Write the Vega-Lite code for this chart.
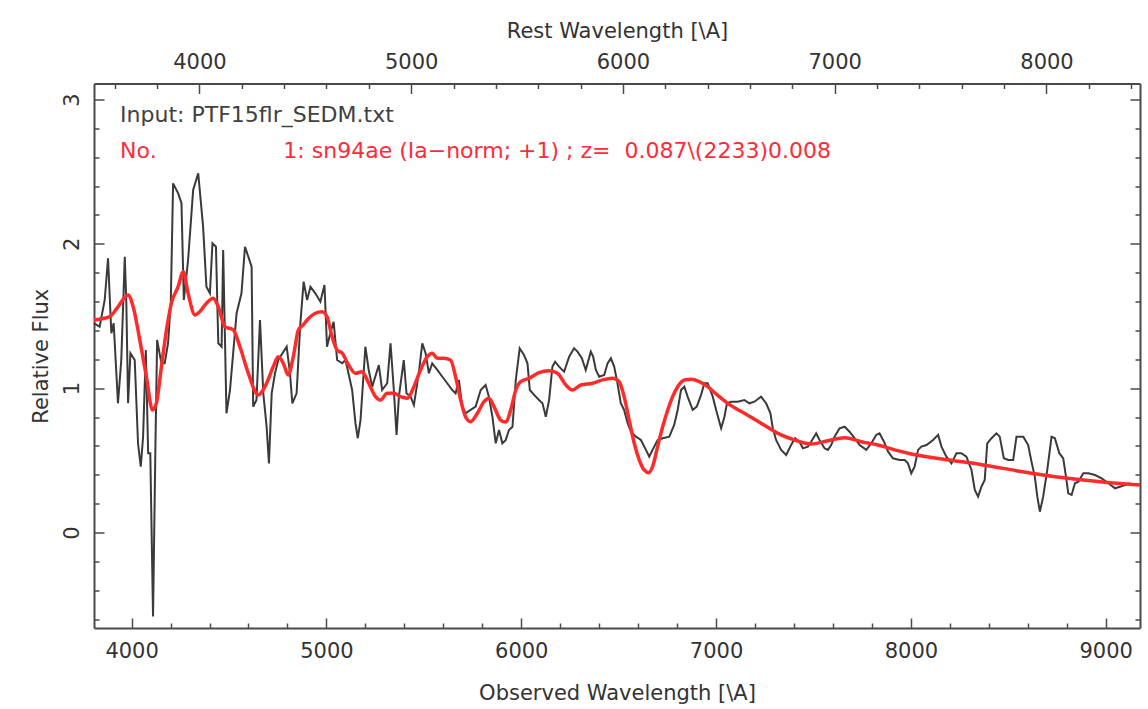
{
  "$schema": "https://vega.github.io/schema/vega-lite/v6.json",
  "width": 1046,
  "height": 544.5,
  "autosize": {"type": "none"},
  "padding": {"left": 94, "top": 83.5, "right": 8, "bottom": 81},
  "background": "#ffffff",
  "config": {
    "view": {"stroke": null},
    "font": "DejaVu Sans",
    "axis": {
      "grid": false,
      "domainColor": "#4a4a4a",
      "domainWidth": 2,
      "tickColor": "#4a4a4a",
      "tickWidth": 1.5,
      "labelColor": "#333333",
      "labelFontSize": 21,
      "titleColor": "#333333",
      "titleFontSize": 21,
      "titleFontWeight": "normal",
      "labelOverlap": false,
      "labelFlush": false
    }
  },
  "datasets": {
    "spectrum": [
      {"wl": 3807, "flux": 1.449}, {"wl": 3836, "flux": 1.426}, {"wl": 3862, "flux": 1.611}, {"wl": 3879, "flux": 1.9},
      {"wl": 3896, "flux": 1.38}, {"wl": 3908, "flux": 1.45}, {"wl": 3930, "flux": 0.895}, {"wl": 3947, "flux": 1.195},
      {"wl": 3965, "flux": 1.91}, {"wl": 3973, "flux": 1.588}, {"wl": 3982, "flux": 0.895}, {"wl": 3994, "flux": 1.242},
      {"wl": 4016, "flux": 1.195}, {"wl": 4033, "flux": 0.618}, {"wl": 4047, "flux": 0.456}, {"wl": 4059, "flux": 0.664},
      {"wl": 4073, "flux": 1.264}, {"wl": 4085, "flux": 0.549}, {"wl": 4096, "flux": 0.549}, {"wl": 4110, "flux": -0.583},
      {"wl": 4122, "flux": 0.572}, {"wl": 4131, "flux": 1.334}, {"wl": 4153, "flux": 1.172}, {"wl": 4170, "flux": 1.172},
      {"wl": 4187, "flux": 1.311}, {"wl": 4201, "flux": 1.588}, {"wl": 4213, "flux": 2.419}, {"wl": 4239, "flux": 2.35},
      {"wl": 4256, "flux": 2.281}, {"wl": 4268, "flux": 1.611}, {"wl": 4290, "flux": 1.888}, {"wl": 4316, "flux": 2.373},
      {"wl": 4342, "flux": 2.489}, {"wl": 4367, "flux": 2.119}, {"wl": 4384, "flux": 1.703}, {"wl": 4402, "flux": 1.657},
      {"wl": 4415, "flux": 2.004}, {"wl": 4433, "flux": 1.98}, {"wl": 4445, "flux": 1.311}, {"wl": 4462, "flux": 1.287},
      {"wl": 4470, "flux": 1.957}, {"wl": 4487, "flux": 0.826}, {"wl": 4505, "flux": 0.987}, {"wl": 4539, "flux": 1.519},
      {"wl": 4564, "flux": 1.657}, {"wl": 4582, "flux": 1.98}, {"wl": 4599, "flux": 1.911}, {"wl": 4616, "flux": 1.842},
      {"wl": 4624, "flux": 0.872}, {"wl": 4641, "flux": 0.918}, {"wl": 4659, "flux": 1.472}, {"wl": 4676, "flux": 0.964},
      {"wl": 4693, "flux": 0.733}, {"wl": 4705, "flux": 0.479}, {"wl": 4719, "flux": 0.964}, {"wl": 4736, "flux": 1.103},
      {"wl": 4753, "flux": 1.195}, {"wl": 4796, "flux": 1.287}, {"wl": 4813, "flux": 1.103}, {"wl": 4825, "flux": 0.895},
      {"wl": 4847, "flux": 0.964}, {"wl": 4865, "flux": 1.426}, {"wl": 4883, "flux": 1.738}, {"wl": 4901, "flux": 1.611},
      {"wl": 4918, "flux": 1.703}, {"wl": 4943, "flux": 1.657}, {"wl": 4969, "flux": 1.599}, {"wl": 4990, "flux": 1.715},
      {"wl": 5003, "flux": 1.287}, {"wl": 5020, "flux": 1.38}, {"wl": 5037, "flux": 1.46}, {"wl": 5055, "flux": 1.195},
      {"wl": 5081, "flux": 1.172}, {"wl": 5098, "flux": 1.195}, {"wl": 5132, "flux": 0.987}, {"wl": 5149, "flux": 0.757},
      {"wl": 5161, "flux": 0.653}, {"wl": 5175, "flux": 0.779}, {"wl": 5200, "flux": 1.287}, {"wl": 5217, "flux": 1.126},
      {"wl": 5235, "flux": 1.01}, {"wl": 5269, "flux": 1.16}, {"wl": 5286, "flux": 0.987}, {"wl": 5312, "flux": 1.034},
      {"wl": 5329, "flux": 1.311}, {"wl": 5346, "flux": 0.987}, {"wl": 5360, "flux": 0.676}, {"wl": 5372, "flux": 0.941},
      {"wl": 5397, "flux": 1.195}, {"wl": 5411, "flux": 0.964}, {"wl": 5432, "flux": 0.941}, {"wl": 5449, "flux": 0.883},
      {"wl": 5474, "flux": 1.103}, {"wl": 5492, "flux": 1.311}, {"wl": 5509, "flux": 1.242}, {"wl": 5526, "flux": 1.103},
      {"wl": 5543, "flux": 1.172}, {"wl": 5569, "flux": 1.126}, {"wl": 5595, "flux": 1.079}, {"wl": 5620, "flux": 1.034},
      {"wl": 5646, "flux": 0.987}, {"wl": 5663, "flux": 0.964}, {"wl": 5680, "flux": 1.057}, {"wl": 5697, "flux": 0.872},
      {"wl": 5714, "flux": 0.826}, {"wl": 5740, "flux": 0.849}, {"wl": 5766, "flux": 0.872}, {"wl": 5792, "flux": 0.987},
      {"wl": 5817, "flux": 1.022}, {"wl": 5834, "flux": 0.941}, {"wl": 5852, "flux": 0.802}, {"wl": 5869, "flux": 0.618},
      {"wl": 5886, "flux": 0.71}, {"wl": 5903, "flux": 0.618}, {"wl": 5920, "flux": 0.64}, {"wl": 5937, "flux": 0.71},
      {"wl": 5955, "flux": 0.733}, {"wl": 5972, "flux": 1.057}, {"wl": 5992, "flux": 1.276}, {"wl": 6014, "flux": 1.23},
      {"wl": 6032, "flux": 1.172}, {"wl": 6044, "flux": 0.987}, {"wl": 6066, "flux": 0.953}, {"wl": 6091, "flux": 0.918},
      {"wl": 6109, "flux": 0.895}, {"wl": 6126, "flux": 0.802}, {"wl": 6143, "flux": 0.918}, {"wl": 6160, "flux": 1.149},
      {"wl": 6174, "flux": 1.183}, {"wl": 6194, "flux": 1.149}, {"wl": 6220, "flux": 1.114}, {"wl": 6246, "flux": 1.218},
      {"wl": 6271, "flux": 1.276}, {"wl": 6289, "flux": 1.253}, {"wl": 6311, "flux": 1.207}, {"wl": 6331, "flux": 1.126},
      {"wl": 6357, "flux": 1.253}, {"wl": 6369, "flux": 1.218}, {"wl": 6383, "flux": 1.126}, {"wl": 6400, "flux": 1.079},
      {"wl": 6426, "flux": 1.091}, {"wl": 6443, "flux": 1.172}, {"wl": 6460, "flux": 1.207}, {"wl": 6477, "flux": 1.149},
      {"wl": 6494, "flux": 1.034}, {"wl": 6511, "flux": 0.895}, {"wl": 6528, "flux": 0.849}, {"wl": 6546, "flux": 0.757},
      {"wl": 6563, "flux": 0.698}, {"wl": 6589, "flux": 0.664}, {"wl": 6614, "flux": 0.641}, {"wl": 6640, "flux": 0.572},
      {"wl": 6657, "flux": 0.525}, {"wl": 6674, "flux": 0.572}, {"wl": 6700, "flux": 0.641}, {"wl": 6726, "flux": 0.653},
      {"wl": 6760, "flux": 0.664}, {"wl": 6785, "flux": 0.745}, {"wl": 6803, "flux": 0.849}, {"wl": 6820, "flux": 0.987},
      {"wl": 6837, "flux": 1.01}, {"wl": 6854, "flux": 0.941}, {"wl": 6880, "flux": 0.849}, {"wl": 6901, "flux": 0.872},
      {"wl": 6923, "flux": 0.953}, {"wl": 6940, "flux": 1.034}, {"wl": 6957, "flux": 1.034}, {"wl": 6983, "flux": 0.941},
      {"wl": 7000, "flux": 0.85}, {"wl": 7026, "flux": 0.722}, {"wl": 7043, "flux": 0.802}, {"wl": 7056, "flux": 0.895},
      {"wl": 7077, "flux": 0.906}, {"wl": 7111, "flux": 0.906}, {"wl": 7145, "flux": 0.918}, {"wl": 7171, "flux": 0.895},
      {"wl": 7197, "flux": 0.906}, {"wl": 7231, "flux": 0.941}, {"wl": 7257, "flux": 0.895}, {"wl": 7279, "flux": 0.826},
      {"wl": 7291, "flux": 0.722}, {"wl": 7308, "flux": 0.641}, {"wl": 7334, "flux": 0.572}, {"wl": 7360, "flux": 0.537},
      {"wl": 7385, "flux": 0.606}, {"wl": 7406, "flux": 0.653}, {"wl": 7428, "flux": 0.629}, {"wl": 7446, "flux": 0.583},
      {"wl": 7471, "flux": 0.595}, {"wl": 7488, "flux": 0.629}, {"wl": 7514, "flux": 0.687}, {"wl": 7531, "flux": 0.641},
      {"wl": 7557, "flux": 0.583}, {"wl": 7574, "flux": 0.572}, {"wl": 7591, "flux": 0.606}, {"wl": 7608, "flux": 0.664},
      {"wl": 7634, "flux": 0.722}, {"wl": 7660, "flux": 0.733}, {"wl": 7685, "flux": 0.698}, {"wl": 7711, "flux": 0.653},
      {"wl": 7737, "flux": 0.606}, {"wl": 7771, "flux": 0.572}, {"wl": 7797, "flux": 0.618}, {"wl": 7822, "flux": 0.676},
      {"wl": 7839, "flux": 0.687}, {"wl": 7862, "flux": 0.629}, {"wl": 7883, "flux": 0.56}, {"wl": 7908, "flux": 0.514},
      {"wl": 7942, "flux": 0.502}, {"wl": 7968, "flux": 0.502}, {"wl": 7985, "flux": 0.479}, {"wl": 8002, "flux": 0.41},
      {"wl": 8019, "flux": 0.456}, {"wl": 8037, "flux": 0.572}, {"wl": 8054, "flux": 0.595}, {"wl": 8080, "flux": 0.606},
      {"wl": 8114, "flux": 0.641}, {"wl": 8140, "flux": 0.676}, {"wl": 8157, "flux": 0.595}, {"wl": 8182, "flux": 0.525},
      {"wl": 8208, "flux": 0.479}, {"wl": 8234, "flux": 0.549}, {"wl": 8259, "flux": 0.549}, {"wl": 8285, "flux": 0.525},
      {"wl": 8311, "flux": 0.433}, {"wl": 8328, "flux": 0.294}, {"wl": 8345, "flux": 0.248}, {"wl": 8362, "flux": 0.317},
      {"wl": 8379, "flux": 0.364}, {"wl": 8392, "flux": 0.618}, {"wl": 8414, "flux": 0.653}, {"wl": 8439, "flux": 0.687},
      {"wl": 8456, "flux": 0.664}, {"wl": 8477, "flux": 0.514}, {"wl": 8500, "flux": 0.502}, {"wl": 8525, "flux": 0.502},
      {"wl": 8542, "flux": 0.664}, {"wl": 8577, "flux": 0.664}, {"wl": 8602, "flux": 0.606}, {"wl": 8619, "flux": 0.491},
      {"wl": 8636, "flux": 0.387}, {"wl": 8649, "flux": 0.248}, {"wl": 8662, "flux": 0.144}, {"wl": 8679, "flux": 0.248},
      {"wl": 8700, "flux": 0.433}, {"wl": 8722, "flux": 0.664}, {"wl": 8739, "flux": 0.653}, {"wl": 8762, "flux": 0.549},
      {"wl": 8782, "flux": 0.514}, {"wl": 8796, "flux": 0.387}, {"wl": 8808, "flux": 0.271}, {"wl": 8825, "flux": 0.26},
      {"wl": 8842, "flux": 0.341}, {"wl": 8860, "flux": 0.352}, {"wl": 8885, "flux": 0.41}, {"wl": 8911, "flux": 0.41},
      {"wl": 8945, "flux": 0.398}, {"wl": 8979, "flux": 0.375}, {"wl": 9014, "flux": 0.341}, {"wl": 9048, "flux": 0.306},
      {"wl": 9073, "flux": 0.317}, {"wl": 9099, "flux": 0.329}, {"wl": 9125, "flux": 0.341}
    ],
    "template": [
      {"wl": 3807, "flux": 1.472}, {"wl": 3888, "flux": 1.495}, {"wl": 3930, "flux": 1.564}, {"wl": 3982, "flux": 1.646},
      {"wl": 4008, "flux": 1.564}, {"wl": 4042, "flux": 1.334}, {"wl": 4076, "flux": 1.079}, {"wl": 4107, "flux": 0.849},
      {"wl": 4127, "flux": 0.895}, {"wl": 4153, "flux": 1.149}, {"wl": 4179, "flux": 1.403}, {"wl": 4204, "flux": 1.588},
      {"wl": 4239, "flux": 1.703}, {"wl": 4265, "flux": 1.807}, {"wl": 4290, "flux": 1.657}, {"wl": 4325, "flux": 1.507},
      {"wl": 4350, "flux": 1.53}, {"wl": 4384, "flux": 1.588}, {"wl": 4419, "flux": 1.623}, {"wl": 4445, "flux": 1.564},
      {"wl": 4479, "flux": 1.426}, {"wl": 4522, "flux": 1.403}, {"wl": 4556, "flux": 1.287}, {"wl": 4599, "flux": 1.103},
      {"wl": 4650, "flux": 0.953}, {"wl": 4693, "flux": 1.034}, {"wl": 4727, "flux": 1.149}, {"wl": 4753, "flux": 1.218},
      {"wl": 4779, "flux": 1.172}, {"wl": 4804, "flux": 1.091}, {"wl": 4830, "flux": 1.218}, {"wl": 4856, "flux": 1.403},
      {"wl": 4882, "flux": 1.44}, {"wl": 4901, "flux": 1.472}, {"wl": 4943, "flux": 1.519}, {"wl": 4978, "flux": 1.53},
      {"wl": 5003, "flux": 1.495}, {"wl": 5029, "flux": 1.357}, {"wl": 5055, "flux": 1.264}, {"wl": 5081, "flux": 1.242},
      {"wl": 5114, "flux": 1.16}, {"wl": 5149, "flux": 1.103}, {"wl": 5183, "flux": 1.114}, {"wl": 5217, "flux": 1.034},
      {"wl": 5252, "flux": 0.941}, {"wl": 5277, "flux": 0.918}, {"wl": 5312, "flux": 0.964}, {"wl": 5346, "flux": 0.964},
      {"wl": 5380, "flux": 0.941}, {"wl": 5415, "flux": 0.93}, {"wl": 5449, "flux": 1.01}, {"wl": 5483, "flux": 1.126},
      {"wl": 5518, "flux": 1.218}, {"wl": 5543, "flux": 1.242}, {"wl": 5569, "flux": 1.207}, {"wl": 5603, "flux": 1.207},
      {"wl": 5637, "flux": 1.195}, {"wl": 5663, "flux": 1.079}, {"wl": 5689, "flux": 0.918}, {"wl": 5714, "flux": 0.802},
      {"wl": 5740, "flux": 0.768}, {"wl": 5775, "flux": 0.826}, {"wl": 5809, "flux": 0.906}, {"wl": 5834, "flux": 0.93},
      {"wl": 5860, "flux": 0.872}, {"wl": 5894, "flux": 0.779}, {"wl": 5920, "flux": 0.765}, {"wl": 5946, "flux": 0.85},
      {"wl": 5972, "flux": 0.987}, {"wl": 5997, "flux": 1.045}, {"wl": 6040, "flux": 1.068}, {"wl": 6091, "flux": 1.107},
      {"wl": 6143, "flux": 1.121}, {"wl": 6186, "flux": 1.103}, {"wl": 6229, "flux": 1.022}, {"wl": 6263, "flux": 0.987},
      {"wl": 6306, "flux": 1.022}, {"wl": 6366, "flux": 1.034}, {"wl": 6417, "flux": 1.057}, {"wl": 6469, "flux": 1.068},
      {"wl": 6503, "flux": 1.045}, {"wl": 6528, "flux": 0.941}, {"wl": 6554, "flux": 0.779}, {"wl": 6580, "flux": 0.618},
      {"wl": 6606, "flux": 0.502}, {"wl": 6631, "flux": 0.433}, {"wl": 6654, "flux": 0.414}, {"wl": 6674, "flux": 0.456},
      {"wl": 6700, "flux": 0.595}, {"wl": 6726, "flux": 0.733}, {"wl": 6752, "flux": 0.849}, {"wl": 6777, "flux": 0.941},
      {"wl": 6803, "flux": 1.01}, {"wl": 6837, "flux": 1.057}, {"wl": 6871, "flux": 1.061}, {"wl": 6914, "flux": 1.045},
      {"wl": 6957, "flux": 1.01}, {"wl": 7000, "flux": 0.96}, {"wl": 7060, "flux": 0.895}, {"wl": 7145, "flux": 0.826},
      {"wl": 7231, "flux": 0.757}, {"wl": 7317, "flux": 0.687}, {"wl": 7402, "flux": 0.641}, {"wl": 7488, "flux": 0.613},
      {"wl": 7574, "flux": 0.636}, {"wl": 7660, "flux": 0.657}, {"wl": 7745, "flux": 0.629}, {"wl": 7831, "flux": 0.606},
      {"wl": 7917, "flux": 0.572}, {"wl": 8002, "flux": 0.544}, {"wl": 8199, "flux": 0.502}, {"wl": 8371, "flux": 0.468},
      {"wl": 8542, "flux": 0.428}, {"wl": 8713, "flux": 0.391}, {"wl": 8885, "flux": 0.364}, {"wl": 9056, "flux": 0.341},
      {"wl": 9176, "flux": 0.329}
    ],
    "header": [{"note": "Input: PTF15flr_SEDM.txt"}],
    "matchno": [{"note": "No."}],
    "match": [{"note": "1: sn94ae (Ia−norm; +1) ; z=\u00a0\u00a00.087\\(2233)0.008"}]
  },
  "layer": [
    {
      "data": {"name": "spectrum"},
      "mark": {"type": "line", "color": "#3a3a3a", "strokeWidth": 2},
      "encoding": {
        "x": {
          "field": "wl", "type": "quantitative",
          "scale": {"domain": [3807, 9176], "nice": false, "zero": false},
          "axis": {
            "orient": "bottom",
            "values": [4000, 4200, 4400, 4600, 4800, 5000, 5200, 5400, 5600, 5800, 6000, 6200, 6400, 6600, 6800, 7000, 7200, 7400, 7600, 7800, 8000, 8200, 8400, 8600, 8800, 9000],
            "format": "d",
            "labelExpr": "datum.value % 1000 === 0 ? datum.label : ''",
            "labelOverlap": false,
            "tickSize": {"condition": {"test": "datum.value % 1000 === 0", "value": -10}, "value": -5},
            "labelBaseline": "alphabetic",
            "labelPadding": 39.5,
            "title": "Observed Wavelength [\\A]",
            "titlePadding": 16
          }
        },
        "y": {
          "field": "flux", "type": "quantitative",
          "scale": {"domain": [-0.662, 3.111], "nice": false, "zero": false},
          "axis": {
            "orient": "left",
            "values": [-0.6, -0.4, -0.2, 0, 0.2, 0.4, 0.6, 0.8, 1, 1.2, 1.4, 1.6, 1.8, 2, 2.2, 2.4, 2.6, 2.8, 3],
            "labelExpr": "abs(datum.value - round(datum.value)) < 0.01 ? format(datum.value, 'd') : ''",
            "labelOverlap": false,
            "tickSize": {"condition": {"test": "abs(datum.value - round(datum.value)) < 0.01", "value": -10}, "value": -5},
            "labelAngle": -90,
            "labelAlign": "center",
            "labelBaseline": "alphabetic",
            "labelPadding": 25.5,
            "title": "Relative Flux",
            "titlePadding": 5
          }
        }
      }
    },
    {
      "data": {"name": "template"},
      "mark": {"type": "line", "color": "#ff2a2a", "strokeWidth": 3.5, "interpolate": "monotone"},
      "encoding": {
        "x": {"field": "wl", "type": "quantitative", "axis": null},
        "y": {"field": "flux", "type": "quantitative", "axis": null}
      }
    },
    {
      "data": {"name": "header"},
      "mark": {"type": "text", "align": "left", "baseline": "middle", "fontSize": 22, "color": "#404040"},
      "encoding": {
        "x": {"datum": 3941, "type": "quantitative", "axis": null},
        "y": {"datum": 2.893, "type": "quantitative", "axis": null},
        "text": {"field": "note"}
      }
    },
    {
      "data": {"name": "matchno"},
      "mark": {"type": "text", "align": "left", "baseline": "middle", "fontSize": 22, "color": "#ff2a3a"},
      "encoding": {
        "x": {"datum": 3941, "type": "quantitative", "axis": null},
        "y": {"datum": 2.64, "type": "quantitative", "axis": null},
        "text": {"field": "note"}
      }
    },
    {
      "data": {"name": "match"},
      "mark": {"type": "text", "align": "left", "baseline": "middle", "fontSize": 22, "color": "#ff2a3a"},
      "encoding": {
        "x": {"datum": 4779, "type": "quantitative", "axis": null},
        "y": {"datum": 2.64, "type": "quantitative", "axis": null},
        "text": {"field": "note"}
      }
    },
    {
      "data": {"name": "header"},
      "mark": {"type": "rule", "opacity": 0},
      "encoding": {
        "y": {
          "datum": 1, "type": "quantitative",
          "axis": {
            "orient": "right",
            "values": [-0.6, -0.4, -0.2, 0, 0.2, 0.4, 0.6, 0.8, 1, 1.2, 1.4, 1.6, 1.8, 2, 2.2, 2.4, 2.6, 2.8, 3],
            "labels": false,
            "title": null,
            "tickSize": {"condition": {"test": "abs(datum.value - round(datum.value)) < 0.01", "value": -10}, "value": -5}
          }
        }
      }
    },
    {
      "data": {"name": "header"},
      "mark": {"type": "rule", "opacity": 0},
      "encoding": {
        "x": {
          "datum": 5000, "type": "quantitative",
          "axis": {
            "orient": "top",
            "values": [3913.2, 4130.6, 4348, 4565.4, 4782.8, 5000.2, 5217.6, 5435, 5652.4, 5869.8, 6087.2, 6304.6, 6522, 6739.4, 6956.8, 7174.2, 7391.6, 7609, 7826.4, 8043.8, 8261.2, 8478.6, 8696, 8913.4, 9130.8],
            "labelExpr": "abs(datum.value / 1.087 - round(datum.value / 1087) * 1000) < 1 ? format(round(datum.value / 1.087), 'd') : ''",
            "labelOverlap": false,
            "tickSize": {"condition": {"test": "abs(datum.value / 1.087 - round(datum.value / 1087) * 1000) < 1", "value": -10}, "value": -5},
            "labelBaseline": "alphabetic",
            "labelPadding": 25.5,
            "title": "Rest Wavelength [\\A]",
            "titlePadding": 5
          }
        }
      }
    }
  ],
  "resolve": {"axis": {"x": "independent", "y": "independent"}}
}
